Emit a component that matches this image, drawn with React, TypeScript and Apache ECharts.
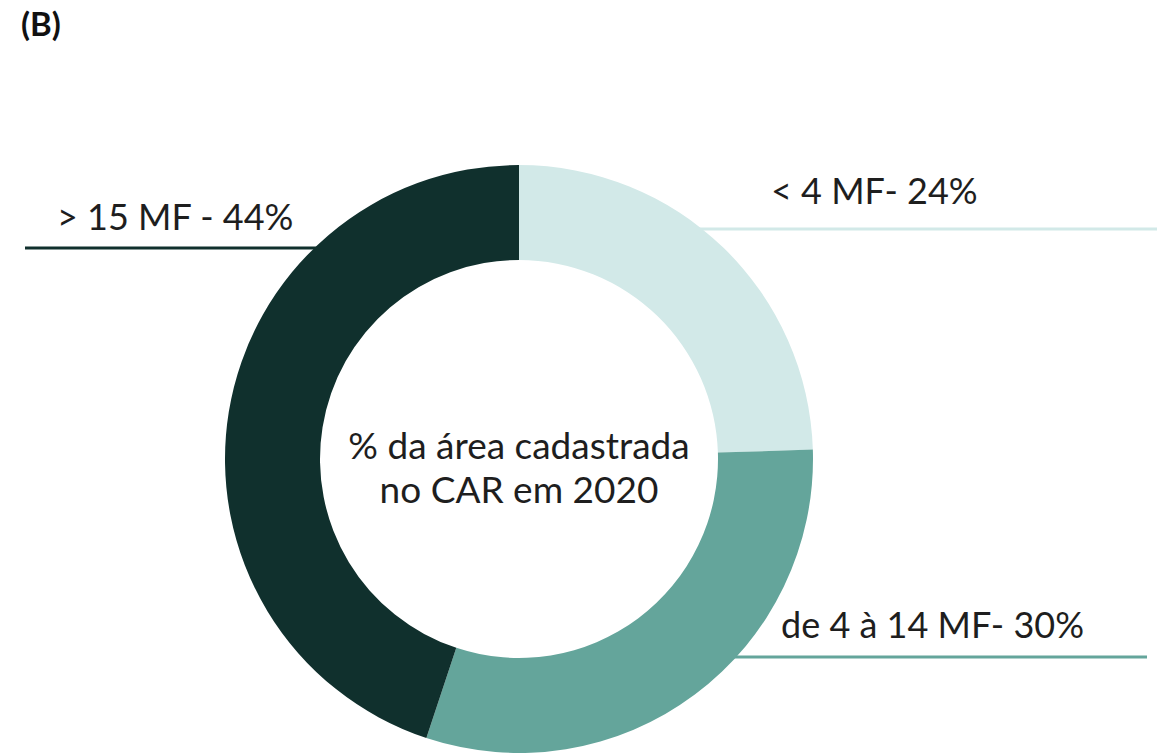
import React, { useEffect, useRef } from "react";
import * as echarts from "echarts";

const categories = ["< 4 MF- 24%", "de 4 à 14 MF- 30%", "> 15 MF - 44%"];
const values = [24, 30, 44];
const colors = ["#d2e9e8", "#64a59b", "#10302d"];
const centerText = "% da área cadastrada\nno CAR em 2020";
const panelTag = "(B)";

const CX = 519;
const CY = 459;
const R_IN = 199;
const R_OUT = 294;

// label placement: text anchor and horizontal leader line (y, far end x)
const labelPlacement = [
  { tx: 771, ty: 190, lineY: 229, endX: 1157, side: 1 },
  { tx: 781, ty: 624, lineY: 657, endX: 1147, side: 1 },
  { tx: 57, ty: 216, lineY: 248, endX: 25, side: -1 },
];

export default function App() {
  const ref = useRef<HTMLDivElement>(null);
  useEffect(() => {
    if (!ref.current) return;
    const chart = echarts.init(ref.current, null, { renderer: "svg" });
    const font = "Lato, 'Noto Sans', sans-serif";
    chart.setOption({
      animation: false,
      backgroundColor: "#ffffff",
      graphic: [
        {
          type: "text",
          left: 21,
          top: 6,
          style: { text: panelTag, font: `bold 33px ${font}`, fill: "#111" },
        },
        {
          type: "text",
          x: CX,
          y: 466,
          style: {
            text: centerText,
            fontFamily: font,
            fontSize: 37,
            lineHeight: 44,
            fill: "#1e1e1e",
            align: "center",
            verticalAlign: "middle",
          },
        },
      ],
      series: [
        {
          type: "pie",
          center: [CX, CY],
          radius: [R_IN, R_OUT],
          startAngle: 90,
          clockwise: true,
          avoidLabelOverlap: false,
          label: {
            show: true,
            formatter: "{b}",
            fontFamily: font,
            fontSize: 36,
            color: "#1e1e1e",
          },
          labelLine: { show: true, lineStyle: { width: 3 } },
          labelLayout: (params: any) => {
            const p = labelPlacement[params.dataIndex];
            const dy = p.lineY - CY;
            const edgeX = CX + p.side * Math.sqrt(R_OUT * R_OUT - dy * dy);
            return {
              x: p.tx,
              y: p.ty,
              align: "left",
              verticalAlign: "middle",
              labelLinePoints: [
                [edgeX - p.side * 6, p.lineY],
                [p.endX, p.lineY],
                [p.endX, p.lineY],
              ],
            };
          },
          emphasis: { disabled: true },
          data: categories.map((name, i) => ({
            name,
            value: values[i],
            itemStyle: { color: colors[i] },
            labelLine: { lineStyle: { color: colors[i] } },
          })),
        },
      ],
    });
    return () => chart.dispose();
  }, []);
  return (
    <div
      ref={ref}
      style={{ position: "fixed", left: 0, top: 0, width: 1161, height: 755 }}
    />
  );
}
